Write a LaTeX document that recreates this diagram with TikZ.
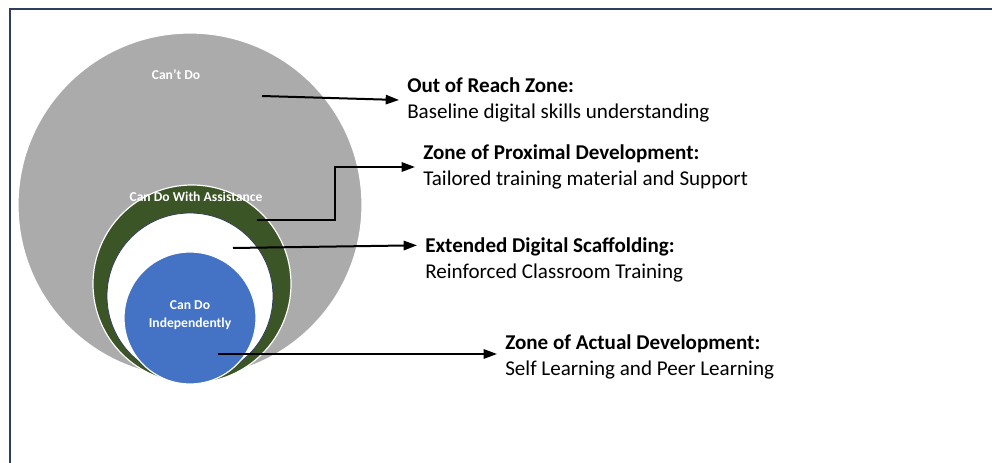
\documentclass[tikz,border=0pt]{standalone}
\usepackage{fontspec}
\setmainfont{Carlito}
\usepackage{tikz}
\usetikzlibrary{arrows.meta,positioning}
\definecolor{cantcolor}{RGB}{171,171,171}
\definecolor{assistcolor}{RGB}{60,85,38}
\definecolor{indepcolor}{RGB}{68,114,196}
\definecolor{framecolor}{RGB}{47,62,95}

\begin{document}
\begin{tikzpicture}[
  x=0.75pt, y=-0.75pt,
  zone/.style={draw=white, line width=0.9pt},
  inlabel/.style={font=\fontsize{10.2}{13.5}\selectfont\bfseries,
                  text=white, align=center, inner sep=0pt},
  desc/.style={anchor=west, align=left, inner xsep=6pt, inner ysep=0pt,
               font=\fontsize{15.8}{19}\selectfont},
  arr/.style={-{Triangle[length=10pt, width=7pt]}, line width=1.5pt}
]
\useasboundingbox (0,0) rectangle (992,463);

% Frame
\draw[framecolor, line width=2pt] (10,463) -- (10,9) -- (992,9);

% Nested zones
\filldraw[zone, fill=cantcolor] (190,205) circle [radius=172];
\filldraw[zone, fill=assistcolor] (192,284) circle [radius=99];
\filldraw[fill=white, draw=framecolor, line width=0.6pt] (190,296) circle [radius=83];
\filldraw[zone, fill=indepcolor] (190,318) circle [radius=66];

\node[inlabel] (cant) at (176,75) {Can’t Do};
\node[inlabel] (assist) at (196,197) {Can Do With Assistance};
\node[inlabel] (indep) at (190,315) {Can Do\\Independently};

% Arrow start points
\coordinate (s1) at (262,96);
\coordinate (s2) at (257,220);
\coordinate (s3) at (233,248);
\coordinate (s4) at (218,354);

% Zone descriptions
\node[desc] (reach) at (399,100)
     {\textbf{Out of Reach Zone:}\\Baseline digital skills understanding};
\node[desc] (prox) at (415,167)
     {\textbf{Zone of Proximal Development:}\\Tailored training material and Support};
\node[desc] (scaf) at (417,260)
     {\textbf{Extended Digital Scaffolding:}\\Reinforced Classroom Training};
\node[desc] (actual) at (497,357)
     {\textbf{Zone of Actual Development:}\\Self Learning and Peer Learning};

\draw[arr] (s1) -- (reach.west);
\draw[arr] (s2) -- ++(78,0) |- (prox.west);
\draw[arr] (s3) -- ([yshift=11pt]scaf.west);
\draw[arr] (s4) -- (s4 -| actual.west);

\end{tikzpicture}
\end{document}
